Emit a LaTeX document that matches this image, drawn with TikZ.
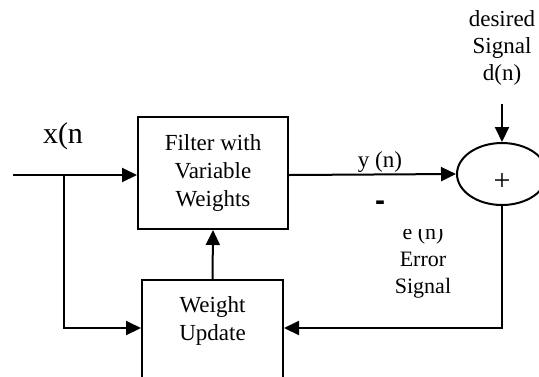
\documentclass[tikz,border=0pt]{standalone}
\usepackage{fontspec}
\setmainfont{Liberation Serif}
\newfontfamily\signfont{Liberation Sans}
\usetikzlibrary{%
  arrows.meta,
  positioning,
  shapes.geometric
}

\begin{document}
\begin{tikzpicture}[x=0.5pt, y=-0.5pt,
    >={Triangle[length=7.5pt, width=7pt]},
    wire/.style={line width=1pt},
    block/.style={draw, rectangle, line width=1pt, align=center,
                  inner sep=0pt, font=\fontsize{11.5}{14}\selectfont},
    tag/.style={align=center, inner sep=0pt, anchor=base},
  ]
    \useasboundingbox (0,0) rectangle (539,376);

    \node [block, anchor=north, minimum width=75pt,
           text height=44.5pt, text depth=11.5pt]
          (filter) at (213,116) {Filter with\\Variable\\Weights};
    \node [block, anchor=north, minimum width=70.5pt,
           text height=30pt, text depth=30.5pt]
          (update) at (212.5,279) {Weight\\Update};
    \node [draw, ellipse, line width=1pt, minimum width=45pt,
           minimum height=31pt, inner sep=0pt] (sum) at (502,174) {};
    \node [tag, font=\fontsize{15}{15}\selectfont] (plus) at (502,190) {+};

    \coordinate (in)    at ( 13,175);
    \coordinate (split) at ( 64,175);
    \coordinate (loop)  at ( 64,328);
    \coordinate (dsrc)  at (502,104);

    \node [tag, font=\fontsize{15}{15}\selectfont] (xlab) at ( 63,143) {x(n};
    \node [tag, font=\fontsize{11.5}{11.5}\selectfont] (ylab) at (380,167) {y (n)};
    \node [tag, font=\fontsize{11.5}{13.5}\selectfont] (dlab) at (502, 80)
          {desired\\Signal\\d(n)};
    \node [tag, font=\signfont\bfseries\fontsize{15}{15}\selectfont]
          (minus) at (380,210) {-};

    \begin{scope}
      \clip (380,229) rectangle (470,310);
      \node [tag, font=\fontsize{11}{13.5}\selectfont] (elab) at (423,293)
            {e (n)\\Error\\Signal};
    \end{scope}

    \begin{scope}[wire]
      \draw [->] (in) -- (in -| filter.west);
      \draw [->] (split) |- (update.west |- loop);
      \draw [->] (update.north) -- (filter.south);
      \draw [->] (in -| filter.east) -- (sum.west);
      \draw [->] (dsrc) -- (sum.north);
      \draw [->] (sum.south) |- (update.east |- loop);
    \end{scope}
\end{tikzpicture}
\end{document}
